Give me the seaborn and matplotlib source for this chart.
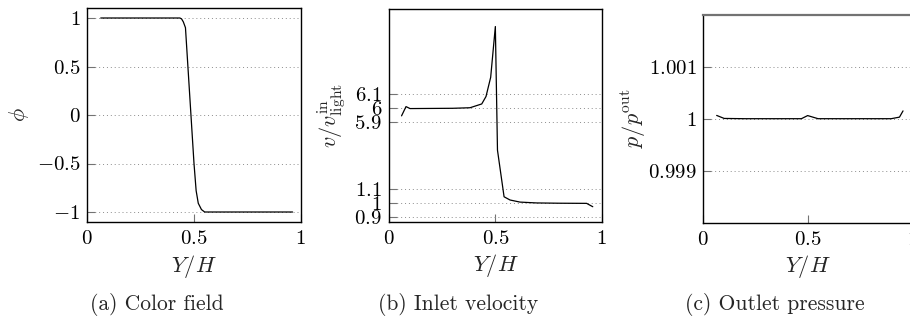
import numpy as np
import pandas as pd
import matplotlib
matplotlib.use("Agg")
import matplotlib.pyplot as plt
import seaborn as sns

# ---------------- data ----------------
# (a) colour field
phi_x = [0.063, 0.10, 0.20, 0.30, 0.40, 0.434, 0.442, 0.450, 0.460, 0.470, 0.480, 0.490, 0.500, 0.510, 0.520, 0.535, 0.550, 0.60, 0.70, 0.80, 0.90, 0.962]
phi_y = [1.0, 1.0, 1.0, 1.0, 1.0, 1.0, 0.99, 0.96, 0.90, 0.55, 0.20, -0.15, -0.50, -0.78, -0.91, -0.975, -1.0, -1.0, -1.0, -1.0, -1.0, -1.0]

# (b) inlet velocity
vel_x = [0.059, 0.080, 0.099, 0.20, 0.30, 0.381, 0.436, 0.456, 0.478, 0.500, 0.510, 0.541, 0.569, 0.616, 0.694, 0.80, 0.929, 0.958]
vel_y = [5.945, 6.011, 5.997, 5.998, 5.999, 6.003, 6.03, 6.083, 6.22, 6.583, 3.9, 1.047, 1.024, 1.009, 1.003, 1.001, 1.0, 0.976]

# (c) outlet pressure
pre_x = [0.064, 0.10, 0.20, 0.30, 0.40, 0.47, 0.50, 0.55, 0.60, 0.70, 0.80, 0.90, 0.94, 0.957]
pre_y = [1.000063, 1.000005, 1.0, 1.0, 1.0, 1.0, 1.00006, 1.0, 1.0, 1.0, 1.0, 1.0, 1.00003, 1.00015]

xticks = [0, 0.5, 1]
xtick_labels = ["$0$", "$0.5$", "$1$"]
phi_ticks = [-1, -0.5, 0, 0.5, 1]
phi_tick_labels = ["$-1$", "$-0.5$", "$0$", "$0.5$", "$1$"]
vel_ticks = [0.9, 1, 1.1, 5.9, 6, 6.1]
vel_tick_labels = ["$0.9$", "$1$", "$1.1$", "$5.9$", "$6$", "$6.1$"]
pre_ticks = [0.999, 1.0, 1.001]
pre_tick_labels = ["$0.999$", "$1$", "$1.001$"]

captions = ["(a) Color field", "(b) Inlet velocity", "(c) Outlet pressure"]

# ---------------- style ----------------
sns.set_theme(style="ticks")
plt.rcParams["font.family"] = ["cmr10", "DejaVu Serif"]
plt.rcParams["mathtext.fontset"] = "cm"
plt.rcParams["axes.unicode_minus"] = True
FS = 15

fig = plt.figure(figsize=(9.1, 3.2), dpi=100)

def px_axes(l, r, t, b):
    W, H = 910.0, 320.0
    return fig.add_axes([l / W, 1 - b / H, (r - l) / W, (b - t) / H])

axA = px_axes(87.3, 300.7, 8.3, 221.7)
axB = px_axes(389.0, 601.7, 9.3, 221.7)
axC = px_axes(703.3, 912.0, 14.7, 222.7)

# piecewise scale for (b)
def fwd(y):
    y = np.asarray(y, dtype=float)
    return np.where(y <= 1.1, y, np.where(y < 5.9, 1.1 + (y - 1.1) / 10.0, 1.58 + (y - 5.9)))

def inv(t):
    t = np.asarray(t, dtype=float)
    return np.where(t <= 1.1, t, np.where(t < 1.58, 1.1 + (t - 1.1) * 10.0, 5.9 + (t - 1.58)))

dfA = pd.DataFrame({"x": phi_x, "y": phi_y})
dfB = pd.DataFrame({"x": vel_x, "y": vel_y})
dfC = pd.DataFrame({"x": pre_x, "y": pre_y})

axB.set_yscale("function", functions=(fwd, inv))

for ax, df in [(axA, dfA), (axB, dfB), (axC, dfC)]:
    sns.lineplot(data=df, x="x", y="y", ax=ax, color="black", linewidth=0.9, sort=False, estimator=None)

def style(ax, yticks, ylabels, ylim, ylab, ylab_x, cap, cap_x):
    ax.set_xlim(0, 1)
    ax.set_ylim(*ylim)
    ax.set_xticks(xticks)
    ax.set_xticklabels(xtick_labels)
    ax.set_yticks(yticks)
    ax.set_yticklabels(ylabels)
    ax.minorticks_off()
    ax.tick_params(axis="both", direction="in", length=6, width=0.8, color="0.45",
                   labelsize=FS, labelcolor="black")
    ax.tick_params(axis="x", pad=6)
    ax.tick_params(axis="y", pad=5)
    ax.yaxis.grid(True, linestyle=(0, (1, 3)), color="0.55", linewidth=0.7)
    ax.xaxis.grid(False)
    for s in ax.spines.values():
        s.set_linewidth(1.0)
        s.set_color("black")
    ax.set_xlabel("$Y/H$", fontsize=FS + 1)
    ax.xaxis.set_label_coords(0.5, -0.145)
    ax.set_ylabel(ylab, fontsize=FS + 1)
    ax.yaxis.set_label_coords(ylab_x, 0.5)
    fig.text(cap_x / 910.0, 1 - 304 / 320, cap, ha="center", va="center", fontsize=FS + 0.5)

style(axA, phi_ticks, phi_tick_labels, (-1.1, 1.1), r"$\phi$", -0.265, captions[0], 157)
style(axB, vel_ticks, vel_tick_labels, (0.869, 6.706), r"$v/v^{\mathrm{in}}_{\mathrm{light}}$", -0.195, captions[1], 458)
style(axC, pre_ticks, pre_tick_labels, (0.998, 1.002), r"$p/p^{\mathrm{out}}$", -0.263, captions[2], 775)
axC.spines["top"].set_color("0.45")
axC.spines["top"].set_linewidth(1.6)

fig.savefig("out.png", dpi=100)
